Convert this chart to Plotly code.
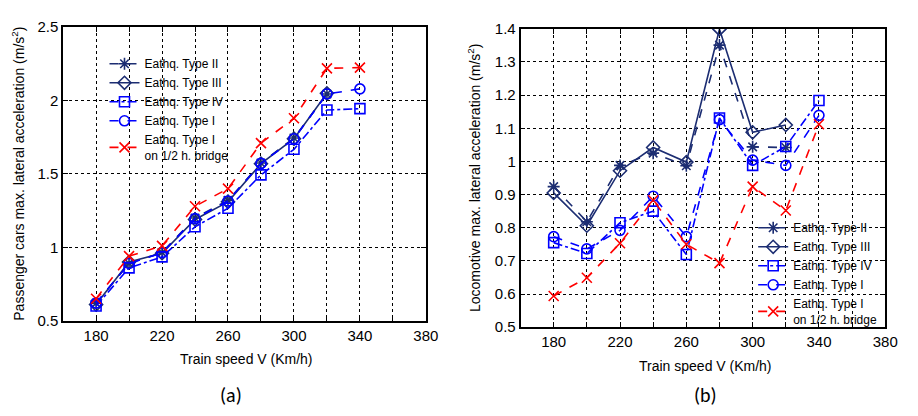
import plotly.graph_objects as go

speeds = [180, 200, 220, 240, 260, 280, 300, 320, 340]

# (a) Passenger cars
a_type2 = [0.62, 0.89, 0.965, 1.20, 1.32, 1.575, 1.745, 2.045]
a_type3 = [0.61, 0.90, 0.96, 1.19, 1.31, 1.57, 1.74, 2.05]
a_type4 = [0.60, 0.86, 0.935, 1.14, 1.266, 1.494, 1.668, 1.936, 1.945]
a_type1 = [0.62, 0.89, 0.963, 1.196, 1.316, 1.572, 1.74, 2.045, 2.08]
a_half = [0.65, 0.94, 1.01, 1.28, 1.40, 1.71, 1.88, 2.22, 2.225]

# (b) Locomotive
b_type2 = [0.924, 0.818, 0.988, 1.025, 0.987, 1.351, 1.044, 1.042]
b_type3 = [0.905, 0.806, 0.972, 1.042, 0.998, 1.399, 1.088, 1.11]
b_type4 = [0.755, 0.722, 0.815, 0.85, 0.719, 1.131, 0.988, 1.045, 1.184]
b_type1 = [0.773, 0.736, 0.792, 0.895, 0.773, 1.126, 1.004, 0.988, 1.139]
b_half = [0.594, 0.649, 0.753, 0.883, 0.75, 0.693, 0.924, 0.852, 1.112]

names = ["Eathq. Type II", "Eathq. Type III", "Eathq. Type IV", "Eathq. Type I",
         "Eathq. Type I<br>on 1/2 h. bridge"]

NAVY = "#1c2d72"
BLUE = "#0000ff"
RED = "#ff0000"
styles = [
    dict(color=NAVY, dash="dash", symbol="asterisk-open"),
    dict(color=NAVY, dash="solid", symbol="diamond-open"),
    dict(color=BLUE, dash="dashdot", symbol="square-open"),
    dict(color=BLUE, dash="dash", symbol="circle-open"),
    dict(color=RED, dash="dash", symbol="x-thin-open"),
]

fig = go.Figure()
for series, xa, ya, leg in [
    ([a_type2, a_type3, a_type4, a_type1, a_half], "x", "y", "legend"),
    ([b_type2, b_type3, b_type4, b_type1, b_half], "x2", "y2", "legend2"),
]:
    for vals, name, st in zip(series, names, styles):
        fig.add_trace(go.Scatter(
            x=speeds[:len(vals)], y=vals, name=name, mode="lines+markers",
            xaxis=xa, yaxis=ya, legend=leg,
            line=dict(color=st["color"], dash=st["dash"], width=1.6),
            marker=dict(symbol=st["symbol"], size=10, color=st["color"],
                        line=dict(color=st["color"], width=1.6)),
        ))

W, H = 918, 416
FONT = "Liberation Sans, Arial, sans-serif"

GRID = dict(showgrid=True, gridcolor="black", griddash="3px,3px", gridwidth=1)

def xaxis(domain, anchor):
    return dict(domain=domain, anchor=anchor, range=[160, 380], tick0=180, dtick=40,
                **GRID,
                minor=dict(tick0=180, dtick=20, ticks="inside", ticklen=5, tickcolor="black",
                           **GRID),
                showline=True, linecolor="black", linewidth=1.6, mirror="ticks",
                ticks="inside", ticklen=5, tickcolor="black",
                tickfont=dict(family=FONT, size=15, color="black"), zeroline=False)

def yaxis(domain, anchor, rng, dtick):
    return dict(domain=domain, anchor=anchor, range=rng, tick0=0.5, dtick=dtick, **GRID,
                showline=True, linecolor="black", linewidth=1.6, mirror="ticks",
                ticks="inside", ticklen=5, tickcolor="black",
                tickfont=dict(family=FONT, size=15, color="black"), zeroline=False)

fig.update_layout(
    width=W, height=H, margin=dict(l=0, r=0, t=0, b=0),
    paper_bgcolor="white", plot_bgcolor="white",
    xaxis=xaxis([64 / W, 432 / W], "y"),
    yaxis=yaxis([(H - 325) / H, (H - 19) / H], "x", [0.5, 2.5], 0.5),
    xaxis2=xaxis([528 / W, 898 / W], "y2"),
    yaxis2=yaxis([(H - 331.7) / H, (H - 20.7) / H], "x2", [0.5, 1.4], 0.1),
    legend=dict(x=106 / W, y=1 - 42 / H, xanchor="left", yanchor="top",
                bgcolor="rgba(0,0,0,0)", borderwidth=0, tracegroupgap=0,
                font=dict(family=FONT, size=12, color="black")),
    legend2=dict(x=764 / W, y=1 - 213 / H, xanchor="left", yanchor="top",
                 bgcolor="rgba(0,0,0,0)", borderwidth=0, tracegroupgap=0,
                 font=dict(family=FONT, size=12, color="black")),
    showlegend=True,
)

ann = [
    dict(text="Passenger cars max. lateral acceleration (m/s<sup>2</sup>)", x=18 / W, y=1 - 172 / H,
         textangle=-90, font=dict(family=FONT, size=14)),
    dict(text="Locomotive max. lateral acceleration (m/s<sup>2</sup>)", x=481 / W, y=1 - 176 / H,
         textangle=-90, font=dict(family=FONT, size=14)),
    dict(text="Train speed V (Km/h)", x=250 / W, y=1 - 365 / H, font=dict(family=FONT, size=14)),
    dict(text="Train speed V (Km/h)", x=716 / W, y=1 - 372 / H, font=dict(family=FONT, size=14)),
    dict(text="(a)", x=234 / W, y=1 - 402 / H, font=dict(family="Carlito, Open Sans, sans-serif", size=20)),
    dict(text="(b)", x=716 / W, y=1 - 402 / H, font=dict(family="Carlito, Open Sans, sans-serif", size=20)),
]
for a in ann:
    a.update(xref="paper", yref="paper", showarrow=False, xanchor="center", yanchor="middle")
    a["font"]["color"] = "black"
fig.update_layout(annotations=ann)

fig.write_html("out.html")
